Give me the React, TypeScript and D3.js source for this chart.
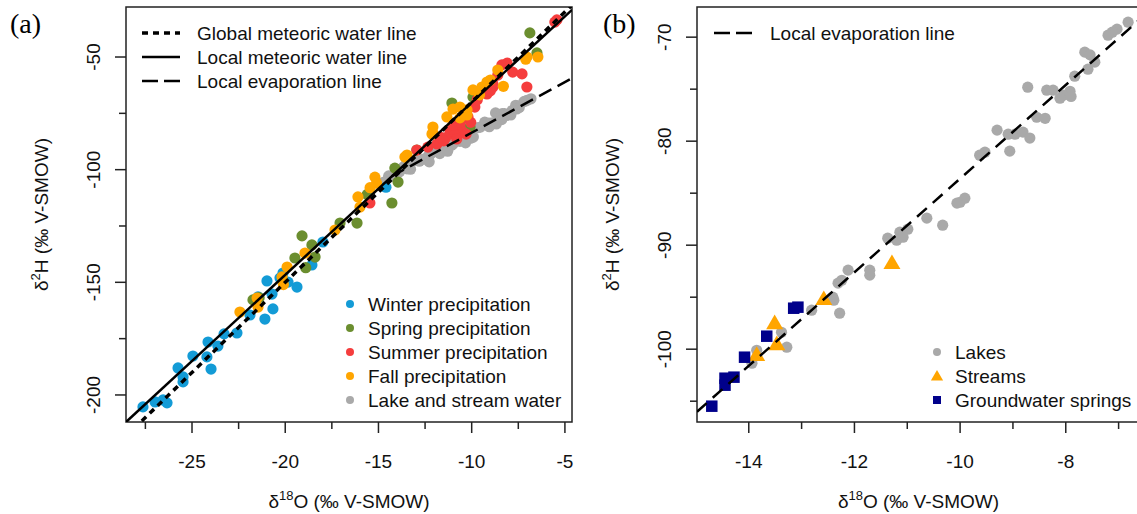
import React from "react";
import * as d3 from "d3";

// [d18O, d2H] pairs
const winter: [number, number][] = [
  [-27.63, -205.3], [-26.98, -203.1], [-26.55, -202.2], [-26.34, -203.5], [-25.48, -194.2],
  [-25.48, -192.0], [-25.75, -188.0], [-24.95, -182.7], [-24.14, -176.5], [-24.2, -183.1],
  [-23.98, -188.5], [-23.61, -178.3], [-23.28, -172.9], [-22.59, -172.5], [-21.89, -164.5],
  [-21.09, -166.3], [-20.66, -161.8], [-20.71, -155.2], [-21.46, -156.5], [-20.98, -149.4],
  [-20.28, -148.1], [-20.12, -145.9], [-19.37, -152.1], [-19.85, -149.9], [-18.57, -142.3],
  [-17.98, -132.1], [-14.6, -107.8],
];

const spring: [number, number][] = [
  [-21.73, -157.8], [-21.4, -156.8], [-19.48, -139.2], [-19.1, -129.4], [-18.57, -133.4],
  [-18.4, -138.8], [-18.9, -143.5], [-17.06, -123.7], [-16.15, -123.7], [-14.28, -114.8],
  [-13.95, -105.5], [-14.12, -99.3], [-12.94, -91.3], [-11.06, -70.4], [-10.09, -81.1],
  [-9.93, -67.8], [-6.88, -39.3], [-6.5, -48.2], [-15.6, -111.0],
];

const summer: [number, number][] = [
  [-15.46, -114.8], [-12.94, -91.3], [-12.35, -90.0], [-11.86, -88.6], [-11.7, -85.5],
  [-11.17, -82.4], [-10.63, -81.1], [-10.47, -83.3], [-10.9, -84.5], [-10.2, -76.6],
  [-10.05, -79.0], [-9.83, -72.2], [-9.7, -69.0], [-9.18, -66.4], [-8.86, -62.0],
  [-8.86, -63.3], [-8.6, -58.0], [-8.38, -53.5], [-8.1, -52.7], [-7.8, -56.7],
  [-7.3, -57.5], [-7.04, -63.3], [-5.54, -34.5], [-5.43, -33.5], [-9.0, -65.0],
  [-11.4, -85.8], [-11.5, -87.2], [-10.8, -86.4], [-10.3, -84.2], [-11.0, -80.2],
  [-10.6, -78.8],
];

const fall: [number, number][] = [
  [-22.43, -163.2], [-21.51, -157.0], [-21.46, -161.0], [-20.17, -147.6], [-19.9, -143.2],
  [-20.1, -151.0], [-18.94, -137.0], [-17.33, -126.8], [-16.1, -112.1], [-15.99, -116.6],
  [-15.19, -103.3], [-15.1, -106.0], [-15.45, -108.0], [-13.58, -94.4], [-13.47, -93.5],
  [-12.08, -83.7], [-12.08, -81.1], [-12.13, -84.2], [-11.33, -76.6], [-11.0, -73.1],
  [-10.63, -72.2], [-10.63, -77.0], [-10.25, -75.7], [-10.25, -73.5], [-9.93, -64.6],
  [-9.45, -63.3], [-9.18, -61.1], [-9.0, -60.2], [-9.58, -66.8], [-8.6, -55.8],
  [-8.3, -63.0], [-7.04, -50.0], [-6.45, -50.0], [-7.1, -51.0],
];

const lakes: [number, number][] = [
  [-6.82, -68.56], [-7.03, -69.23], [-7.12, -69.52], [-7.2, -69.81], [-7.64, -71.44],
  [-7.54, -71.7], [-7.45, -72.4], [-7.58, -73.08], [-7.83, -73.75], [-8.72, -74.81],
  [-8.36, -75.1], [-8.24, -75.1], [-7.92, -75.2], [-8.05, -75.58], [-8.11, -75.87],
  [-7.9, -75.7], [-8.55, -77.7], [-8.39, -77.8], [-9.3, -78.94], [-9.09, -79.33],
  [-8.96, -79.33], [-8.81, -79.13], [-8.68, -79.7], [-9.06, -80.96], [-9.53, -81.06],
  [-9.63, -81.35], [-10.0, -85.87], [-9.91, -85.48], [-10.06, -85.96], [-10.63, -87.4],
  [-10.33, -88.08], [-11.14, -88.75], [-10.99, -88.46], [-11.37, -89.33], [-11.2, -89.52],
  [-11.08, -89.23], [-12.12, -92.4], [-11.71, -92.4], [-11.71, -92.88], [-12.24, -93.37],
  [-12.31, -93.65], [-12.41, -95.0], [-12.39, -95.29], [-12.28, -96.54], [-12.81, -96.25],
  [-13.38, -98.37], [-13.28, -99.81], [-13.85, -100.1], [-13.94, -101.35],
];

const streams: [number, number][] = [
  [-11.29, -91.83], [-12.58, -95.29], [-13.51, -97.6], [-13.47, -99.62], [-13.85, -100.67],
];

const springs: [number, number][] = [
  [-13.15, -96.06], [-13.07, -95.96], [-13.66, -98.75], [-14.08, -100.77], [-14.28, -102.69],
  [-14.45, -102.79], [-14.45, -103.46], [-14.7, -105.48],
];

// lines: slope, intercept
const gmwl = [8, 10];
const lmwl = [7.65, 6.3];
const lel = [4.5, -38.6];
const lelStartA = -14.3;

const xTicksA = d3.range(-27.5, -4.9, 2.5);
const xLabelsA = [-25, -20, -15, -10, -5];
const yTicksA = d3.range(-200, -49, 25);
const yLabelsA = [-200, -150, -100, -50];

const xTicksB = d3.range(-14, -6.9, 1);
const xLabelsB = [-14, -12, -10, -8];
const yTicksB = d3.range(-105, -69, 5);
const yLabelsB = [-100, -90, -80, -70];

const legendA = ["Global meteoric water line", "Local meteoric water line", "Local evaporation line"];
const seasonNames = ["Winter precipitation", "Spring precipitation", "Summer precipitation", "Fall precipitation", "Lake and stream water"];
const seasonColors = ["#139bd6", "#6b8e2f", "#f53d3d", "#ffa500", "#a9a9a9"];
const sourceNames = ["Lakes", "Streams", "Groundwater springs"];

const FONT = "'Liberation Sans', Arial, sans-serif";
const FS = 19;

const xA = d3.scaleLinear().domain([-28.54, -4.62]).range([126, 572]);
const yA = d3.scaleLinear().domain([-212, -27.8]).range([422, 7]);
const xB = d3.scaleLinear().domain([-14.98, -6.595]).range([697, 1140]);
const yB = d3.scaleLinear().domain([-107.0, -67.1]).range([422, 7]);

const dotted = { stroke: "#000", strokeWidth: 3.5, strokeDasharray: "6 5", fill: "none" };
const solid = { stroke: "#000", strokeWidth: 2.5, fill: "none" };
const dashed = { stroke: "#000", strokeWidth: 2.5, strokeDasharray: "14 7", fill: "none" };

function Frame({ x, y, xTicks, xLabels, yTicks, yLabels, id }: any) {
  const [l, r] = x.range();
  const [b, t] = y.range();
  const cx = (l + r) / 2;
  const cy = (t + b) / 2;
  const isMajor = (v: number, arr: number[]) => arr.some((a) => Math.abs(a - v) < 1e-6);
  return (
    <g fontFamily={FONT} fontSize={FS} fill="#111">
      <rect x={l} y={t} width={r - l} height={b - t} fill="none" stroke="#222" strokeWidth={1.5} />
      {xTicks.map((v: number) => (
        <line key={"xt" + v} x1={x(v)} x2={x(v)} y1={b} y2={b + (isMajor(v, xLabels) ? 11 : 7)} stroke="#222" strokeWidth={1.5} />
      ))}
      {xLabels.map((v: number) => (
        <text key={"xl" + v} x={x(v)} y={b + 46} textAnchor="middle">{v}</text>
      ))}
      {yTicks.map((v: number) => (
        <line key={"yt" + v} y1={y(v)} y2={y(v)} x1={l} x2={l - (isMajor(v, yLabels) ? 11 : 7)} stroke="#222" strokeWidth={1.5} />
      ))}
      {yLabels.map((v: number) => (
        <text key={"yl" + v} transform={`translate(${l - 26},${y(v)}) rotate(-90)`} textAnchor="middle">{v}</text>
      ))}
      <text x={cx} y={508} textAnchor="middle">
        δ<tspan fontSize={13} dy={-8}>18</tspan><tspan dy={8}>O (‰ V-SMOW)</tspan>
      </text>
      <text transform={`translate(${l - 78},${cy}) rotate(-90)`} textAnchor="middle">
        δ<tspan fontSize={13} dy={-8}>2</tspan><tspan dy={8}>H (‰ V-SMOW)</tspan>
      </text>
      <clipPath id={id}>
        <rect x={l} y={t} width={r - l} height={b - t} />
      </clipPath>
    </g>
  );
}

const abline = (x: any, y: any, [m, c]: number[], x0?: number) => {
  const [d0, d1] = x.domain();
  const xs = [x0 ?? d0, d1];
  return d3.line()(xs.map((v) => [x(v), y(m * v + c)]) as [number, number][]) as string;
};

const tri = d3.symbol(d3.symbolTriangle, 80)() as string;
const sq = (s: number) => `M${-s / 2},${-s / 2}h${s}v${s}h${-s}Z`;

export default function App() {
  const gray = [...lakes, ...streams, ...springs];
  const seasons = [winter, spring, summer, fall];
  return (
    <svg width={1137} height={514} style={{ position: "absolute", left: 0, top: 0, background: "#fff" }}>
      {/* panel a */}
      <Frame x={xA} y={yA} xTicks={xTicksA} xLabels={xLabelsA} yTicks={yTicksA} yLabels={yLabelsA} id="clipA" />
      <g clipPath="url(#clipA)">
        {gray.map((d, i) => (
          <circle key={"g" + i} cx={xA(d[0])} cy={yA(d[1])} r={5.6} fill={seasonColors[4]} />
        ))}
        {seasons.map((s, k) =>
          s.map((d, i) => <circle key={k + "-" + i} cx={xA(d[0])} cy={yA(d[1])} r={5.6} fill={seasonColors[k]} />)
        )}
        <path d={abline(xA, yA, gmwl)} {...dotted} />
        <path d={abline(xA, yA, lmwl)} {...solid} />
        <path d={abline(xA, yA, lel, lelStartA)} {...dashed} />
      </g>
      <text x={10} y={33} fontFamily="'Liberation Serif', 'Times New Roman', serif" fontSize={28}>(a)</text>
      <g fontFamily={FONT} fontSize={FS} fill="#111">
        {legendA.map((name, i) => (
          <g key={name}>
            <line x1={142} x2={180} y1={33 + i * 24} y2={33 + i * 24} {...[dotted, solid, dashed][i]} strokeDasharray={["6 5", undefined, "16 6"][i]} />
            <text x={197} y={40 + i * 24}>{name}</text>
          </g>
        ))}
        {seasonNames.map((name, i) => (
          <g key={name}>
            <circle cx={350} cy={304 + i * 24} r={4} fill={seasonColors[i]} />
            <text x={368} y={311 + i * 24}>{name}</text>
          </g>
        ))}
      </g>

      {/* panel b */}
      <Frame x={xB} y={yB} xTicks={xTicksB} xLabels={xLabelsB} yTicks={yTicksB} yLabels={yLabelsB} id="clipB" />
      <g clipPath="url(#clipB)">
        {lakes.map((d, i) => (
          <circle key={"l" + i} cx={xB(d[0])} cy={yB(d[1])} r={5.6} fill="#a9a9a9" />
        ))}
        {streams.map((d, i) => (
          <path key={"s" + i} d={tri} transform={`translate(${xB(d[0])},${yB(d[1])}) scale(1.25)`} fill="#ffa500" />
        ))}
        {springs.map((d, i) => (
          <path key={"q" + i} d={sq(11.5)} transform={`translate(${xB(d[0])},${yB(d[1])})`} fill="#00008b" />
        ))}
        <path d={abline(xB, yB, lel)} {...dashed} strokeDasharray="13 8" />
      </g>
      <text x={603} y={33} fontFamily="'Liberation Serif', 'Times New Roman', serif" fontSize={28}>(b)</text>
      <g fontFamily={FONT} fontSize={FS} fill="#111">
        <line x1={714} x2={752} y1={33} y2={33} {...dashed} strokeDasharray="16 6" />
        <text x={770} y={40}>Local evaporation line</text>
        <circle cx={937} cy={352} r={4} fill="#a9a9a9" />
        <path d={tri} transform="translate(937,377) scale(0.9)" fill="#ffa500" />
        <path d={sq(8)} transform="translate(937,400)" fill="#00008b" />
        {sourceNames.map((name, i) => (
          <text key={name} x={955} y={359 + i * 24}>{name}</text>
        ))}
      </g>
    </svg>
  );
}
